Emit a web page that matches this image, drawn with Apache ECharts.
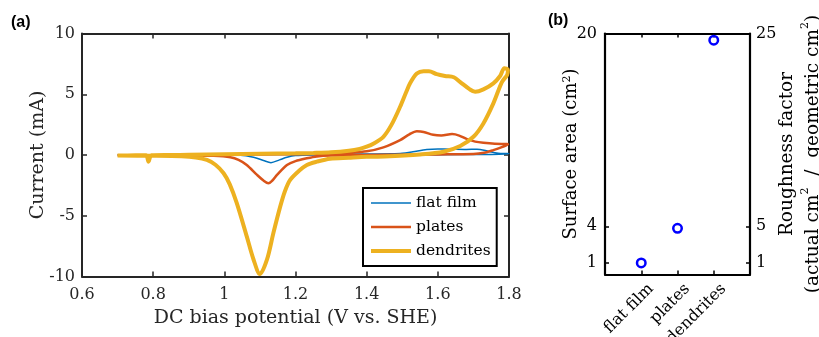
<!DOCTYPE html>
<html>
<head>
<meta charset="utf-8">
<script src="https://cdn.jsdelivr.net/npm/echarts@6/dist/echarts.min.js"></script>
<style>
  html, body { margin: 0; padding: 0; background: #fff; }
  #chart { width: 819px; height: 337px; }
</style>
</head>
<body>
<div id="chart"></div>
<script>
// ---- (a) cyclic voltammograms: potential (V vs. SHE) and current (mA), forward then reverse sweep ----
const flatFilmV = [0.70, 1.00, 1.20, 1.40, 1.47, 1.50, 1.53, 1.569, 1.60, 1.635, 1.68, 1.71, 1.73, 1.747, 1.77, 1.795,
                   1.80, 1.75, 1.60, 1.40, 1.25, 1.20, 1.176, 1.155, 1.131, 1.11, 1.082, 1.045, 0.90, 0.70];
const flatFilmI = [0.00, 0.03, 0.05, 0.08, 0.10, 0.14, 0.27, 0.45, 0.49, 0.48, 0.46, 0.47, 0.40, 0.27, 0.15, 0.12,
                   0.10, 0.05, 0.03, 0.02, 0.00, -0.05, -0.19, -0.40, -0.63, -0.45, -0.19, -0.03, 0.00, 0.00];

const platesV = [0.70, 0.90, 1.00, 1.10, 1.20, 1.30, 1.35, 1.40, 1.447, 1.494, 1.52, 1.541, 1.56, 1.587, 1.61, 1.64, 1.66, 1.682, 1.705, 1.728, 1.76, 1.795,
                 1.797, 1.78, 1.756, 1.73, 1.70, 1.60, 1.50, 1.40, 1.30, 1.26, 1.232, 1.20, 1.176, 1.148, 1.135, 1.124, 1.11, 1.092, 1.063, 1.04, 1.017, 0.97, 0.90, 0.80, 0.70];
const platesI = [-0.02, 0.00, 0.03, 0.05, 0.07, 0.12, 0.18, 0.30, 0.63, 1.23, 1.70, 1.95, 1.90, 1.66, 1.60, 1.72, 1.60, 1.30, 1.10, 1.00, 0.92, 0.90,
                 0.88, 0.65, 0.40, 0.18, 0.08, 0.05, 0.03, 0.00, -0.05, -0.12, -0.27, -0.50, -0.82, -1.64, -2.10, -2.33, -2.10, -1.64, -0.82, -0.40, -0.19, -0.07, -0.03, -0.02, -0.02];

const dendritesV = [0.70, 0.75, 0.78, 0.787, 0.795, 0.85, 0.90, 1.00, 1.10, 1.20, 1.25, 1.30, 1.35, 1.38, 1.40, 1.42, 1.447, 1.47, 1.494, 1.51, 1.522, 1.541, 1.56, 1.575, 1.597, 1.62, 1.645, 1.663, 1.69, 1.705, 1.728, 1.756, 1.775, 1.787, 1.797,
                    1.795, 1.78, 1.756, 1.728, 1.70, 1.663, 1.616, 1.55, 1.45, 1.40, 1.35, 1.297, 1.26, 1.232, 1.21, 1.185, 1.17, 1.157, 1.138, 1.12, 1.10, 1.082, 1.063, 1.035, 1.015, 0.998, 0.975, 0.951, 0.92, 0.88, 0.80, 0.70];
const dendritesI = [-0.05, -0.03, -0.02, -0.55, -0.02, 0.00, 0.02, 0.06, 0.10, 0.14, 0.17, 0.22, 0.35, 0.50, 0.68, 0.95, 1.50, 2.50, 3.97, 5.10, 5.90, 6.70, 6.90, 6.90, 6.65, 6.50, 6.40, 6.00, 5.40, 5.20, 5.40, 5.90, 6.50, 7.15, 7.00,
                    6.60, 6.00, 4.25, 2.60, 1.50, 0.74, 0.27, 0.05, -0.12, -0.15, -0.22, -0.30, -0.55, -0.82, -1.30, -2.05, -3.00, -4.25, -6.40, -8.60, -9.80, -8.60, -6.70, -3.97, -2.40, -1.50, -0.80, -0.41, -0.20, -0.10, -0.06, -0.05];

const currentTicks = [-10, -5, 0, 5, 10];
const potentialTicks = [0.6, 0.8, 1.0, 1.2, 1.4, 1.6, 1.8];

// ---- (b) electrochemical surface area per morphology ----
const morphologies = ['flat film', 'plates', 'dendrites'];
const surfaceArea = [0.96, 3.83, 19.45];
const areaTicks = [1, 4, 20];
const roughnessTicks = ['1', '5', '25'];

const SERIF = 'DejaVu Serif';
const INK = '#262626';

function pairs(xs, ys) { return xs.map((x, i) => [x, ys[i]]); }

const chart = echarts.init(document.getElementById('chart'), null, { renderer: 'canvas' });

const frameA = { show: true, onZero: false, lineStyle: { color: INK, width: 2 } };
const tickA = { show: true, inside: true, length: 5, lineStyle: { color: INK, width: 1.5 } };
const frameB = { show: true, onZero: false, lineStyle: { color: '#000', width: 2.2 } };
const tickB = { show: true, inside: true, length: 4, lineStyle: { color: '#000', width: 1.5 }, customValues: [1, 2, 3] };
const tickBy = { show: true, inside: true, length: 4, lineStyle: { color: '#000', width: 1.5 }, customValues: areaTicks };

const supRich = {
  sup: { fontFamily: SERIF, fontSize: 11, verticalAlign: 'top', color: '#000', padding: [0, 0, 6, 0] }
};

const option = {
  backgroundColor: '#fff',
  animation: false,
  title: [
    { text: '(a)', left: 11, top: 15, padding: 0,
      textStyle: { fontFamily: 'Liberation Sans', fontWeight: 'bold', fontSize: 16, color: '#000' } },
    { text: '(b)', left: 548, top: 13, padding: 0,
      textStyle: { fontFamily: 'Liberation Sans', fontWeight: 'bold', fontSize: 16, color: '#000' } }
  ],
  grid: [
    { left: 82, top: 33.5, right: 310, bottom: 60.5, outerBoundsMode: 'none' },
    { left: 605, top: 33.5, right: 69, bottom: 62.5, outerBoundsMode: 'none' }
  ],
  legend: {
    data: ['flat film', 'plates', 'dendrites'],
    orient: 'vertical',
    left: 363, top: 188,
    itemWidth: 40, itemHeight: 14, itemGap: 8,
    padding: [7, 6, 7, 6],
    borderColor: '#000', borderWidth: 2, backgroundColor: '#fff',
    itemStyle: { opacity: 0 },
    lineStyle: { width: 'inherit' },
    textStyle: { fontFamily: SERIF, fontSize: 15.5, lineHeight: 14, color: '#000' }
  },
  xAxis: [
    { type: 'value', gridIndex: 0, position: 'bottom', min: 0.6, max: 1.8, interval: 0.2,
      axisLine: frameA, axisTick: tickA, splitLine: { show: false },
      axisLabel: { fontFamily: SERIF, fontSize: 16, color: INK, margin: 10,
        formatter: v => String(parseFloat(v.toFixed(1))) },
      name: 'DC bias potential (V vs. SHE)', nameLocation: 'middle', nameGap: 32, nameMoveOverlap: false,
      nameTextStyle: { fontFamily: SERIF, fontSize: 19, color: INK } },
    { type: 'value', gridIndex: 0, position: 'top', min: 0.6, max: 1.8, interval: 0.2,
      axisLine: frameA, axisTick: tickA, axisLabel: { show: false }, splitLine: { show: false } },
    { type: 'value', gridIndex: 1, position: 'bottom', min: 0, max: 4,
      axisLine: frameB, axisTick: tickB, splitLine: { show: false },
      axisLabel: { customValues: [1, 2, 3], rotate: 45, fontFamily: SERIF, fontSize: 16, color: '#000',
        margin: 2, verticalAlign: 'top', padding: [6, 0, 0, 0],
        formatter: v => morphologies[Math.round(v) - 1] } },
    { type: 'value', gridIndex: 1, position: 'top', min: 0, max: 4,
      axisLine: frameB, axisTick: tickB, axisLabel: { show: false }, splitLine: { show: false } }
  ],
  yAxis: [
    { type: 'value', gridIndex: 0, position: 'left', min: currentTicks[0], max: currentTicks[currentTicks.length - 1], interval: 5,
      axisLine: frameA, axisTick: tickA, splitLine: { show: false },
      axisLabel: { fontFamily: SERIF, fontSize: 16, color: INK, margin: 7 },
      name: 'Current (mA)', nameLocation: 'middle', nameGap: 34, nameMoveOverlap: false,
      nameTextStyle: { fontFamily: SERIF, fontSize: 19, color: INK } },
    { type: 'value', gridIndex: 0, position: 'right', min: -10, max: 10, interval: 5,
      axisLine: frameA, axisTick: tickA, axisLabel: { show: false }, splitLine: { show: false } },
    { type: 'value', gridIndex: 1, position: 'left', min: 0, max: 20,
      axisLine: frameB, axisTick: tickBy, splitLine: { show: false },
      axisLabel: { customValues: areaTicks, fontFamily: SERIF, fontSize: 16, color: '#000', margin: 8 },
      name: 'Surface area (cm{sup|2})', nameLocation: 'middle', nameGap: 25, nameMoveOverlap: false,
      nameTextStyle: { fontFamily: SERIF, fontSize: 18, color: '#000', rich: supRich } },
    { type: 'value', gridIndex: 1, position: 'right', min: 0, max: 20,
      axisLine: frameB, axisTick: tickBy, splitLine: { show: false },
      axisLabel: { customValues: areaTicks, fontFamily: SERIF, fontSize: 16, color: '#000', margin: 6,
        formatter: v => roughnessTicks[areaTicks.indexOf(Math.round(v))] },
      name: 'Roughness factor\n(actual cm{sup|2}  /  geometric cm{sup|2})', nameLocation: 'middle', nameGap: 24, nameMoveOverlap: false,
      nameTextStyle: { fontFamily: SERIF, fontSize: 18.5, color: '#000', lineHeight: 26, rich: supRich } }
  ],
  series: [
    { name: 'flat film', type: 'line', xAxisIndex: 0, yAxisIndex: 0, data: pairs(flatFilmV, flatFilmI),
      showSymbol: false, symbol: 'none', smooth: 0.3, lineStyle: { color: '#0072BD', width: 1.5 }, itemStyle: { color: '#0072BD' } },
    { name: 'plates', type: 'line', xAxisIndex: 0, yAxisIndex: 0, data: pairs(platesV, platesI),
      showSymbol: false, symbol: 'none', smooth: 0.3, lineStyle: { color: '#D95319', width: 2.5 }, itemStyle: { color: '#D95319' } },
    { name: 'dendrites', type: 'line', xAxisIndex: 0, yAxisIndex: 0, data: pairs(dendritesV, dendritesI),
      showSymbol: false, symbol: 'none', smooth: 0.3, lineStyle: { color: '#EDB120', width: 4 }, itemStyle: { color: '#EDB120' } },
    { name: 'surface area', type: 'scatter', xAxisIndex: 2, yAxisIndex: 2,
      data: surfaceArea.map((a, i) => [i + 1, a]),
      symbol: 'circle', symbolSize: 8.5,
      itemStyle: { color: 'rgba(0,0,0,0)', borderColor: '#0000FF', borderWidth: 2.5, opacity: 1 } }
  ]
};

chart.setOption(option);
</script>
</body>
</html>
